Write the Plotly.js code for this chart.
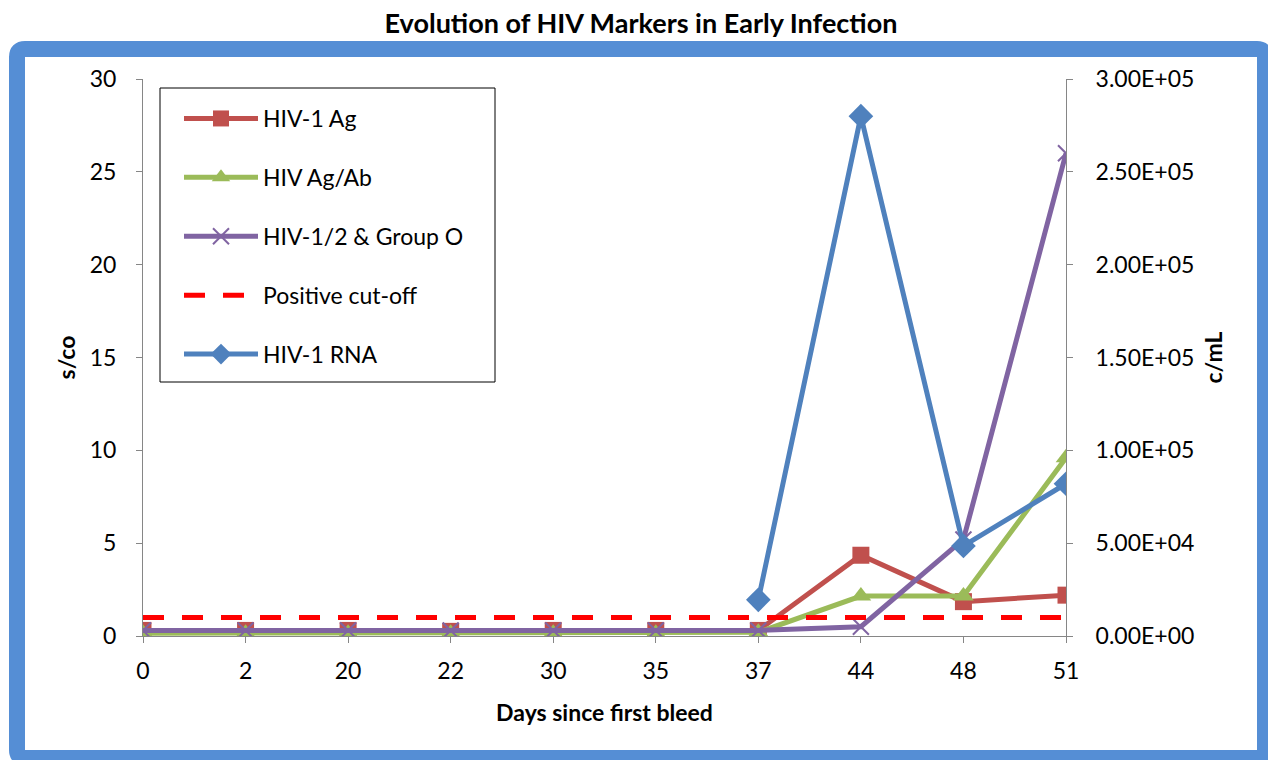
<!DOCTYPE html>
<html>
<head>
<meta charset="utf-8">
<script src="https://cdn.plot.ly/plotly-3.0.1.min.js"></script>
<style>html,body{margin:0;padding:0;background:#fff;}#chart{width:1268px;height:760px;}</style>
</head>
<body>
<div id="chart"></div>
<script>
// ---- data ----
var days = ["0", "2", "20", "22", "30", "35", "37", "44", "48", "51"];
var hiv1Ag = [0.3, 0.3, 0.3, 0.25, 0.3, 0.3, 0.3, 4.35, 1.85, 2.2];
var hivAgAb = [0.15, 0.15, 0.15, 0.15, 0.15, 0.15, 0.2, 2.15, 2.15, 9.6];
var hivGroupO = [0.3, 0.3, 0.3, 0.3, 0.3, 0.3, 0.3, 0.5, 5.2, 26];
var cutoff = [1, 1, 1, 1, 1, 1, 1, 1, 1, 1];
var hiv1Rna = [null, null, null, null, null, null, 19500, 280000, 48500, 82000];
var leftTicks = [0, 5, 10, 15, 20, 25, 30];
var rightTickVals = [0, 50000, 100000, 150000, 200000, 250000, 300000];
var rightTickText = ["0.00E+00", "5.00E+04", "1.00E+05", "1.50E+05", "2.00E+05", "2.50E+05", "3.00E+05"];

// ---- layout geometry ----
var W = 1268, H = 760;
var mL = 143, mR = W - 1066, mT = 79, mB = H - 636;
var pw = W - mL - mR, ph = H - mT - mB;
function px(x) { return (x - mL) / pw; }
function py(y) { return (H - mB - y) / ph; }

var FONT = "Lato, 'Open Sans', sans-serif";
var axisCol = "#868686";

var traces = [
  {name: "HIV-1 Ag", x: days, y: hiv1Ag, type: "scatter", mode: "lines+markers",
   line: {color: "#C0504D", width: 5}, marker: {symbol: "square", size: 17, color: "#C0504D"}, legendgroup: "a"},
  {name: "HIV Ag/Ab", x: days, y: hivAgAb, type: "scatter", mode: "lines+markers",
   line: {color: "#9BBB59", width: 5}, marker: {symbol: "triangle-up", size: 18, color: "#9BBB59"}, legendgroup: "b"},
  {name: "HIV-1/2 &amp; Group O", x: days, y: hivGroupO, type: "scatter", mode: "lines+markers",
   line: {color: "#8064A2", width: 5}, marker: {symbol: "x-thin", size: 16, color: "#8064A2", line: {color: "#8064A2", width: 2}}, legendgroup: "c"},
  {name: "Positive cut-off", x: days, y: cutoff, type: "scatter", mode: "lines",
   line: {color: "#FF0000", width: 5, dash: "21px,18px"}, legendgroup: "d"},
  {name: "HIV-1 RNA", x: days, y: hiv1Rna, type: "scatter", mode: "lines+markers", yaxis: "y2",
   line: {color: "#4F81BD", width: 5}, marker: {symbol: "diamond", size: 19, color: "#4F81BD"}, legendgroup: "e"}
];

// rounded frame path in paper coords
var fx0 = 17, fy0 = 49, fx1 = 1265, fy1 = 758, r = 8;
function P(x, y) { return px(x) + "," + py(y); }
var framePath = "M" + P(fx0 + r, fy0) + " L" + P(fx1 - r, fy0) + " Q" + P(fx1, fy0) + " " + P(fx1, fy0 + r) +
  " L" + P(fx1, fy1 - r) + " Q" + P(fx1, fy1) + " " + P(fx1 - r, fy1) +
  " L" + P(fx0 + r, fy1) + " Q" + P(fx0, fy1) + " " + P(fx0, fy1 - r) +
  " L" + P(fx0, fy0 + r) + " Q" + P(fx0, fy0) + " " + P(fx0 + r, fy0) + " Z";

var layout = {
  width: W, height: H,
  margin: {l: mL, r: mR, t: mT, b: mB, pad: 0},
  paper_bgcolor: "#fff", plot_bgcolor: "#fff",
  font: {family: FONT, size: 23, color: "#000"},
  showlegend: true,
  title: {text: "<b>Evolution of HIV Markers in Early Infection</b>", font: {family: FONT, size: 27, color: "#000"},
          x: 641 / W, xref: "container", xanchor: "center", y: 1 - 24 / H, yref: "container", yanchor: "middle"},
  xaxis: {type: "category", range: [0, 9], showgrid: false, zeroline: false,
          showline: true, linecolor: axisCol, linewidth: 1, ticks: "outside", ticklen: 6, tickcolor: axisCol,
          ticklabelstandoff: 8, tickfont: {family: FONT, size: 23},
          title: {text: "<b>Days since first bleed</b>", font: {family: FONT, size: 23}, standoff: 22}},
  yaxis: {range: [0, 30], tickvals: leftTicks, showgrid: false, zeroline: false,
          showline: true, linecolor: axisCol, linewidth: 1, ticks: "outside", ticklen: 6, tickcolor: axisCol,
          ticklabelstandoff: 15, tickfont: {family: FONT, size: 23},
          title: {text: "<b>s/co</b>", font: {family: FONT, size: 23}, standoff: 7}},
  yaxis2: {overlaying: "y", side: "right", range: [0, 300000], tickvals: rightTickVals, ticktext: rightTickText,
           showgrid: false, zeroline: false, showline: true, linecolor: axisCol, linewidth: 1,
           ticks: "outside", ticklen: 6, tickcolor: axisCol, ticklabelstandoff: 18, tickfont: {family: FONT, size: 23},
           title: {text: "<b>c/mL</b>", font: {family: FONT, size: 23}, standoff: 12}},
  legend: {x: px(179), y: py(97), xanchor: "left", yanchor: "top", bgcolor: "rgba(0,0,0,0)",
           borderwidth: 0, font: {family: FONT, size: 23},
           traceorder: "grouped", tracegroupgap: 26, itemwidth: 74},
  shapes: [
    {type: "path", xref: "paper", yref: "paper", path: framePath,
     line: {color: "#558ED5", width: 16}, fillcolor: "rgba(0,0,0,0)", layer: "below"},
    {type: "rect", xref: "paper", yref: "paper", x0: px(160), x1: px(495), y0: py(88), y1: py(382),
     line: {color: "#000", width: 1}, fillcolor: "#fff", layer: "below"}
  ]
};

Plotly.newPlot("chart", traces, layout, {displayModeBar: false, staticPlot: true});
</script>
</body>
</html>
